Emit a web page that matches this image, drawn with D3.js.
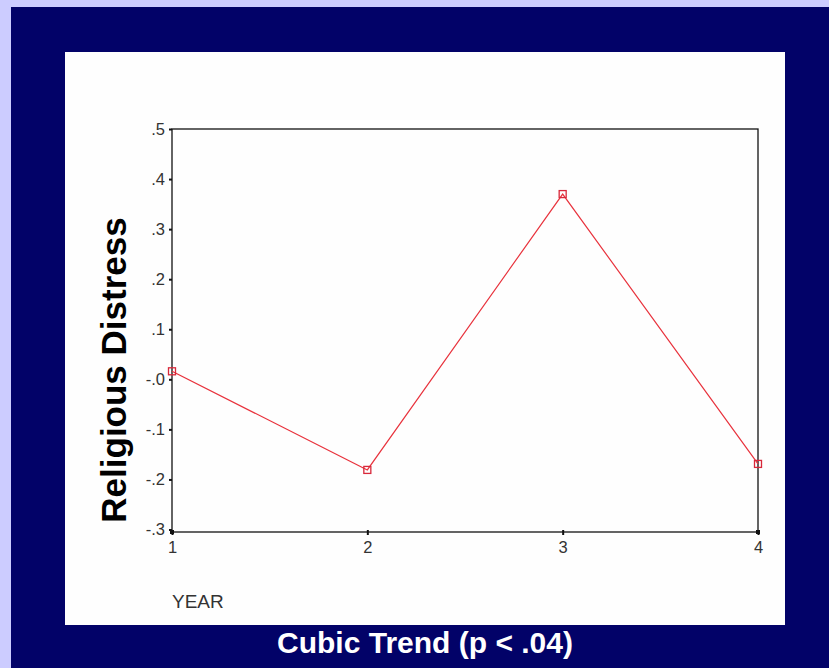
<!DOCTYPE html>
<html><head><meta charset="utf-8">
<script src="https://cdn.jsdelivr.net/npm/d3@7"></script>
<style>html,body{margin:0;padding:0;background:#ccccff;}svg{display:block;}</style>
</head><body>
<script>
const years = [1, 2, 3, 4];
const distress = [0.016, -0.181, 0.370, -0.169];
const yTicks = [0.5, 0.4, 0.3, 0.2, 0.1, 0, -0.1, -0.2, -0.3];
const yTickLabels = [".5", ".4", ".3", ".2", ".1", "-.0", "-.1", "-.2", "-.3"];
const xTickLabels = ["1", "2", "3", "4"];

const W = 829, H = 668;
const svg = d3.select("body").append("svg").attr("width", W).attr("height", H);
svg.append("rect").attr("width", W).attr("height", H).attr("fill", "#ccccff");
svg.append("rect").attr("x", 11).attr("y", 7).attr("width", W - 11).attr("height", H - 7).attr("fill", "#020268");
svg.append("rect").attr("x", 65).attr("y", 52).attr("width", 720).attr("height", 573).attr("fill", "#fefefe");

const x = d3.scaleLinear().domain([1, 4]).range([172, 758]);
const y = d3.scaleLinear().domain([-0.305, 0.5]).range([532, 129]);

const font = "Arial, 'Liberation Sans', sans-serif";

// frame
svg.append("rect").attr("x", 172).attr("y", 129).attr("width", 586).attr("height", 403)
  .attr("fill", "none").attr("stroke", "#111").attr("stroke-width", 1.3);

// y axis
const yAxis = d3.axisLeft(y).tickValues(yTicks).tickSize(3).tickPadding(4)
  .tickFormat((d, i) => yTickLabels[i]);
const gy = svg.append("g").attr("transform", "translate(172,0)").call(yAxis);
gy.select(".domain").remove();
gy.selectAll(".tick line").attr("stroke", "#111").attr("stroke-width", 2);
gy.selectAll(".tick text").attr("font-family", font).attr("font-size", 16.5).attr("fill", "#333");

// x axis
const xAxis = d3.axisBottom(x).tickValues(years).tickSize(3).tickPadding(6)
  .tickFormat((d, i) => xTickLabels[i]);
const gx = svg.append("g").attr("transform", "translate(0,532)").call(xAxis);
gx.select(".domain").remove();
gx.selectAll(".tick line").attr("stroke", "#111").attr("stroke-width", 2).attr("y1", -2);
gx.selectAll(".tick text").attr("font-family", font).attr("font-size", 16.5).attr("fill", "#333");

// corner dots
svg.append("rect").attr("x", 170).attr("y", 530).attr("width", 4).attr("height", 4).attr("fill", "#111");
svg.append("rect").attr("x", 756).attr("y", 530).attr("width", 4).attr("height", 4).attr("fill", "#111");

// line
const pts = years.map((d, i) => [d, distress[i]]);
svg.append("path").datum(pts)
  .attr("d", d3.line().x(d => x(d[0])).y(d => y(d[1])))
  .attr("fill", "none").attr("stroke", "#e8323c").attr("stroke-width", 1.2);
svg.selectAll(".pt").data(pts).enter().append("rect")
  .attr("x", d => x(d[0]) - 3.5).attr("y", d => y(d[1]) - 3.5)
  .attr("width", 7).attr("height", 7)
  .attr("fill", "none").attr("stroke", "#d8283a").attr("stroke-width", 1.3);

// axis titles
svg.append("text").attr("transform", "translate(126,370) rotate(-90)")
  .attr("text-anchor", "middle").attr("font-family", font).attr("font-weight", "bold")
  .attr("font-size", 35).attr("fill", "#000").text("Religious Distress");
svg.append("text").attr("x", 172).attr("y", 608).attr("font-family", font)
  .attr("font-size", 19).attr("fill", "#333").text("YEAR");

// bottom title
svg.append("text").attr("x", 425).attr("y", 653).attr("text-anchor", "middle")
  .attr("font-family", font).attr("font-weight", "bold").attr("font-size", 30)
  .attr("fill", "#fff").text("Cubic Trend (p < .04)");
</script>
</body></html>
